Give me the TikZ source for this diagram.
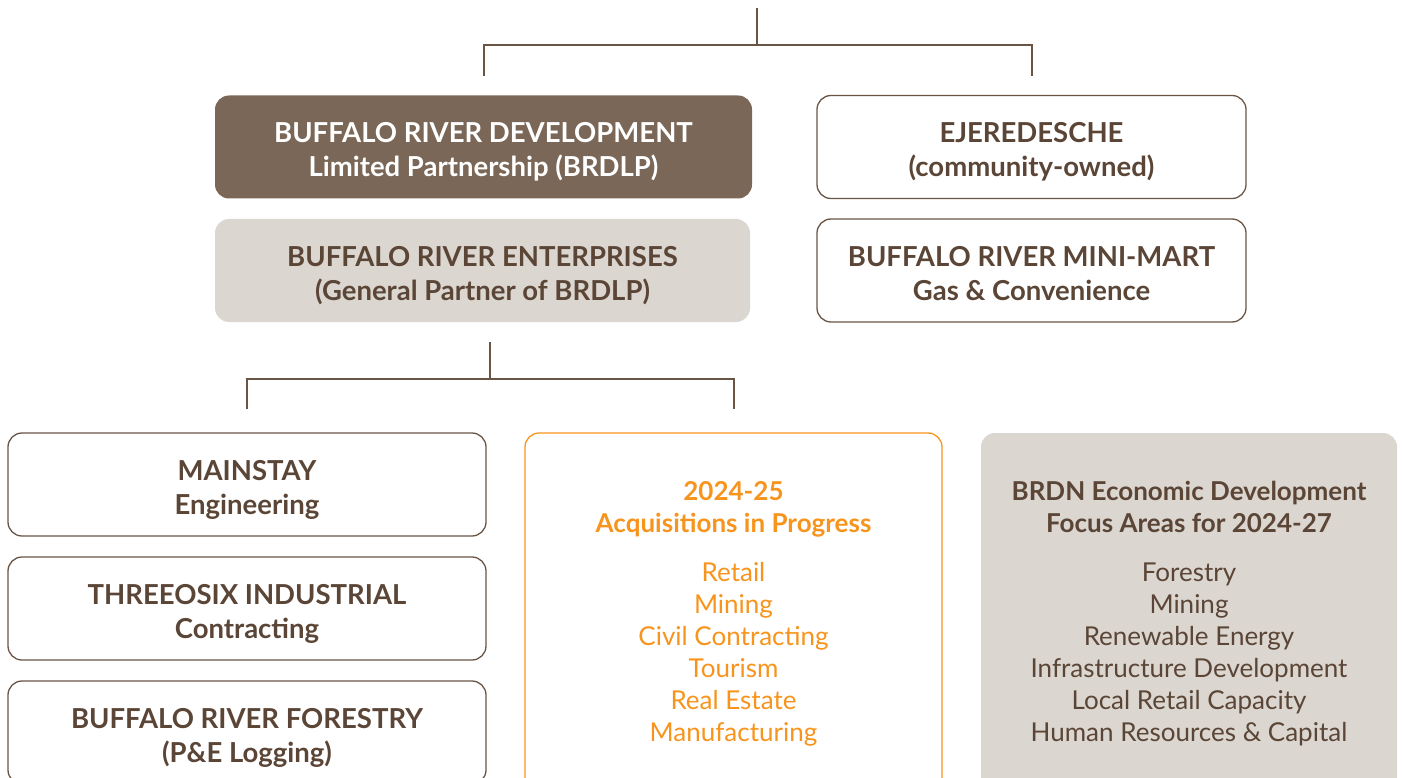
\documentclass[tikz,border=0pt]{standalone}
\usepackage{fontspec}
\setmainfont{Lato}
\usetikzlibrary{positioning}
\definecolor{brbrown}{HTML}{7A6757}
\definecolor{brtext}{HTML}{5A4536}
\definecolor{brline}{HTML}{6A5545}
\definecolor{brgrey}{HTML}{DBD6D0}
\definecolor{brorange}{HTML}{F7941D}
\newcommand{\boxfont}{\fontsize{27.5}{34}\selectfont\bfseries}
\newcommand{\listfont}{\fontsize{26}{32}\selectfont}
\newcommand{\headfont}{\fontsize{26}{31}\selectfont\bfseries}

\tikzset{
  card/.style={draw=brline, line width=1.3pt, rounded corners=14pt,
    inner sep=0pt, align=center, text=brtext},
  unit/.style={card, minimum height=103pt, font=\boxfont,
    text height=66pt, text depth=6pt},
  panel/.style={card, minimum height=362pt, font=\listfont},
  link/.style={draw=brline, line width=2pt},
}

\begin{document}
\begin{tikzpicture}[x=1pt,y=-1pt]
\useasboundingbox (0,0) rectangle (1405,778);

\node[unit, fill=brbrown, draw=none, text=white, minimum width=537pt] (brdlp) at (483.5,147)
     {BUFFALO RIVER DEVELOPMENT\\ Limited Partnership (BRDLP)};
\node[unit, fill=brgrey, draw=none, minimum width=535pt] (ent) at (482.5,270.5)
     {BUFFALO RIVER ENTERPRISES\\ (General Partner of BRDLP)};
\node[unit, minimum width=429pt] (ejer) at (1031.5,147)
     {EJEREDESCHE\\ (community-owned)};
\node[unit, minimum width=429pt] (mart) at (1031.5,270.5)
     {BUFFALO RIVER MINI-MART\\ Gas \& Convenience};

\node[unit, minimum width=478pt] (mainstay) at (247,484.5)
     {MAINSTAY\\ Engineering};
\node[unit, minimum width=478pt] (threeosix) at (247,608.5)
     {THREEOSIX INDUSTRIAL\\ Contracting};
\node[unit, minimum width=478pt] (forestry) at (247,732.5)
     {BUFFALO RIVER FORESTRY\\ (P\&E Logging)};

\node[panel, draw=brorange, text=brorange, minimum width=417pt] (acq) at (733.5,614)
     {\headfont 2024-25\\ \headfont Acquisitions in Progress\\[17pt]
      \listfont Retail\\ \listfont Mining\\ \listfont Civil Contracting\\
      \listfont Tourism\\ \listfont Real Estate\\ \listfont Manufacturing};
\node[panel, fill=brgrey, draw=none, minimum width=416pt] (brdn) at (1189,614)
     {\headfont BRDN Economic Development\\ \headfont Focus Areas for 2024-27\\[17pt]
      \listfont Forestry\\ \listfont Mining\\ \listfont Renewable Energy\\
      \listfont Infrastructure Development\\ \listfont Local Retail Capacity\\
      \listfont Human Resources \& Capital};

% top split
\coordinate (top) at (757,8);
\coordinate (split1) at (757,45);
\draw[link] (top) -- (split1);
\draw[link, shorten <=19pt, shorten >=19pt] (brdlp.north) |- (split1) -| (ejer.north);

% enterprises split
\coordinate (stem) at (490,342);
\coordinate (split2) at (490,379);
\draw[link] (stem) -- (split2);
\draw[link, shorten <=23pt, shorten >=23pt] (mainstay.north) |- (split2) -| (acq.north);
\end{tikzpicture}
\end{document}
